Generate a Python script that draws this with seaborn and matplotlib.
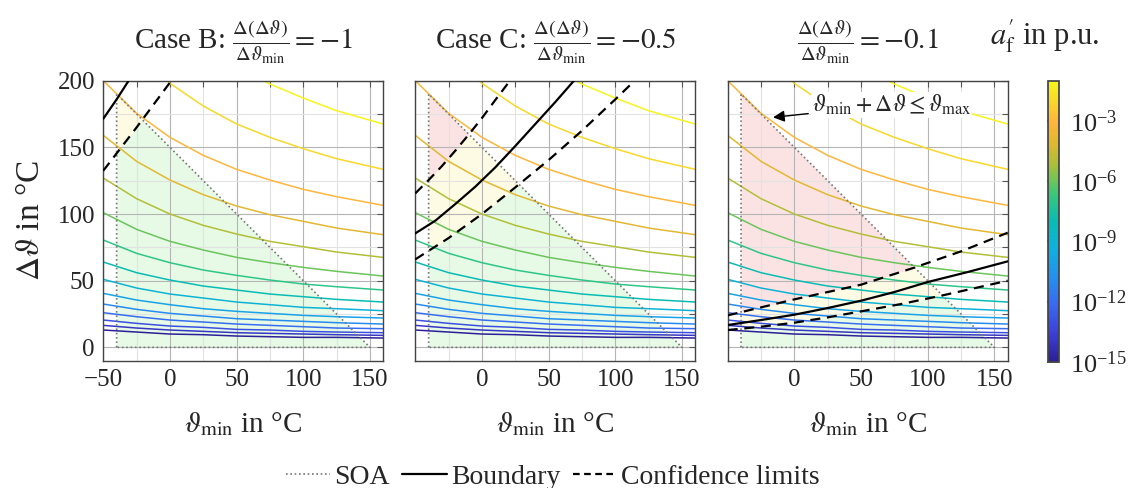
import numpy as np
import pandas as pd
import matplotlib
matplotlib.use("Agg")
import matplotlib.pyplot as plt
import seaborn as sns
from matplotlib.colors import LinearSegmentedColormap, LogNorm
from matplotlib.cm import ScalarMappable
from matplotlib.lines import Line2D
from matplotlib.ticker import MultipleLocator

# ---- data ----
tmin_grid = [-50, -25, 0, 25, 50, 75, 100, 125, 160]
af_levels = [1e-1, 1e-2, 1e-3, 1e-4, 1e-5, 1e-6, 1e-7, 1e-8,
             1e-9, 1e-10, 1e-11, 1e-12, 1e-13, 1e-14, 1e-15]
# delta-theta of each iso-line of a_f' at the tmin_grid positions
iso_dtheta = [
    [315, 276, 248, 227, 210, 197.5, 187, 177.5, 167.5],
    [251, 220, 198, 181, 167.5, 157.5, 149, 141.5, 133.5],
    [200, 175.5, 157.5, 144, 133.5, 125.5, 118.5, 113, 106.5],
    [159, 139.5, 125.5, 114.5, 106, 99.5, 94.5, 89.5, 84.5],
    [127, 111.5, 100, 91.5, 85, 79.5, 75.5, 71.5, 67.5],
    [101, 88.5, 79.5, 73, 67.5, 63.5, 60, 57, 53.5],
    [80.5, 70.5, 63.5, 58, 54, 50.5, 47.5, 45.5, 43],
    [64, 56, 50.5, 46, 43, 40, 38, 36, 34],
    [51, 44.5, 40, 37, 34, 32, 30, 29, 27.5],
    [40.5, 35.5, 32, 29, 27, 25.5, 24, 23, 22],
    [32.5, 28.5, 25.5, 23.5, 21.5, 20.5, 19.5, 18.5, 17.5],
    [26, 23, 20.5, 19, 17.5, 16.5, 15.5, 14.5, 14],
    [20.5, 18, 16, 15, 13.5, 13, 12, 11.5, 11],
    [16.5, 14.5, 13, 12, 11, 10.5, 10, 9.5, 9],
    [13, 11.5, 10, 9.5, 8.5, 8, 7.5, 7.5, 7],
]

# safe operating area
soa_tmin = -40
soa_tmax = 150

case_titles = [
    r"Case B: $\frac{\Delta(\Delta\vartheta)}{\Delta\vartheta_\mathrm{min}} = -1$",
    r"Case C: $\frac{\Delta(\Delta\vartheta)}{\Delta\vartheta_\mathrm{min}} = -0.5$",
    r"$\frac{\Delta(\Delta\vartheta)}{\Delta\vartheta_\mathrm{min}} = -0.1$",
]

# boundary and confidence limits per case (tmin, dtheta)
boundary_x = [[-50, -40, -31],
              [-50, -35, -20, -5, 10, 25, 40, 55, 69],
              [-50, -25, 0, 25, 50, 75, 100, 130, 160]]
boundary_y = [[171.5, 186, 200],
              [85.5, 95, 107.5, 120.5, 135, 151, 167.5, 184, 200],
              [16.75, 20.5, 24.5, 29.5, 35, 41.5, 49, 56.5, 64.5]]
conf_up_x = [None,
             [-50, -40, -30, -20, -10, 0, 10, 21],
             [-50, -25, 0, 25, 50, 89, 125, 160]]
conf_up_y = [None,
             [115.5, 125.5, 136, 147.5, 159.5, 172, 185.5, 200],
             [24, 30, 36, 41.5, 47, 59.5, 72, 86]]
conf_lo_x = [[-50, -25, 1],
             [-50, -25, 0, 25, 50, 75, 100, 114.5],
             [-50, -25, 0, 25, 50, 80, 109, 160]]
conf_lo_y = [[132.5, 165, 200],
             [66, 82, 100, 120, 140.5, 162.5, 186, 200],
             [13, 15.5, 18.5, 22.5, 27, 32.5, 38.5, 50]]

xticks = [[-50, 0, 50, 100, 150], [0, 50, 100, 150], [0, 50, 100, 150]]
cbar_ticks = [1e-15, 1e-12, 1e-9, 1e-6, 1e-3]

# parula-like colour map as seen on the colour bar
cmap_pos = [0.0, 0.1, 0.2, 0.3, 0.4, 0.5, 0.6, 0.7, 0.78, 0.857, 0.93, 1.0]
cmap_col = ["#2c1f98", "#3b3fd8", "#3a68f0", "#2390f0", "#10b0e0", "#08bcb4",
            "#3cc878", "#a8c038", "#e0b830", "#ffb53c", "#f8d828", "#f8f51a"]
parula = LinearSegmentedColormap.from_list("parula", list(zip(cmap_pos, cmap_col)))
norm = LogNorm(1e-15, 1e-1)

rows = []
for lev, vals in zip(af_levels, iso_dtheta):
    for t, d in zip(tmin_grid, vals):
        rows.append({"tmin": t, "dtheta": d, "level": lev})
iso_df = pd.DataFrame(rows)

sns.set_theme(style="white")
plt.rcParams["font.family"] = ["Liberation Serif", "DejaVu Serif"]
plt.rcParams["mathtext.fontset"] = "stix"
plt.rcParams["font.size"] = 18

fig = plt.figure(figsize=(11.35, 4.88), dpi=100)
W, H = 1135, 488
lefts = [103.3, 415.3, 727.7]
axes = [fig.add_axes([l / W, 1 - 360.7 / H, 280 / W, 280 / H]) for l in lefts]

green, yellow, red = "#e6fae6", "#fdfbe3", "#fbe3e3"
xs = np.linspace(soa_tmin, soa_tmax, 400)
soa_top = soa_tmax - xs
dash = (0, (4.5, 3))

for i, ax in enumerate(axes):
    lo = np.interp(xs, conf_lo_x[i], conf_lo_y[i])
    up = np.interp(xs, conf_up_x[i], conf_up_y[i]) if conf_up_x[i] else np.full_like(xs, np.inf)
    g_top = np.minimum(soa_top, lo)
    ax.fill_between(xs, 0, g_top, color=green, lw=0, zorder=0.2)
    y_top = np.minimum(soa_top, up)
    ax.fill_between(xs, g_top, y_top, where=y_top > g_top, color=yellow, lw=0, zorder=0.2)
    ax.fill_between(xs, y_top, soa_top, where=soa_top > y_top, color=red, lw=0, zorder=0.2)

    sns.lineplot(data=iso_df, x="tmin", y="dtheta", hue="level", hue_norm=norm,
                 palette=parula, legend=False, ax=ax, lw=1.1, zorder=2)

    ax.plot([soa_tmin, soa_tmin, soa_tmax, soa_tmin], [0, soa_tmax - soa_tmin, 0, 0],
            color="#777777", ls=(0, (1, 1.6)), lw=1.2, zorder=3)
    ax.plot(boundary_x[i], boundary_y[i], color="black", lw=1.6, zorder=4)
    ax.plot(conf_lo_x[i], conf_lo_y[i], color="black", lw=1.6, ls=dash, zorder=4)
    if conf_up_x[i]:
        ax.plot(conf_up_x[i], conf_up_y[i], color="black", lw=1.6, ls=dash, zorder=4)

    ax.set_xlim(-50, 160)
    ax.set_ylim(-10, 200)
    ax.set_xticks(xticks[i])
    ax.xaxis.set_minor_locator(MultipleLocator(25))
    ax.yaxis.set_major_locator(MultipleLocator(50))
    ax.yaxis.set_minor_locator(MultipleLocator(25))
    ax.grid(which="major", color="#b5b5b5", lw=0.8)
    ax.grid(which="minor", color="#e2e2e2", lw=0.8)
    ax.set_axisbelow(True)
    ax.tick_params(which="both", direction="in", length=4, width=0.8, color="#555555",
                   top=True, right=True, labelsize=18, pad=6)
    for s in ax.spines.values():
        s.set_color("#444444")
        s.set_linewidth(1.0)
    ax.set_xlabel(r"$\vartheta_\mathrm{min}$ in °C", fontsize=21, labelpad=14)
    ax.set_ylabel("")
    ax.set_title(case_titles[i], fontsize=21, pad=23)
    if i > 0:
        ax.set_yticklabels([])

axes[0].set_ylabel(r"$\Delta\vartheta$ in °C", fontsize=24, labelpad=8)

axes[2].annotate(r"$\vartheta_\mathrm{min} + \Delta\vartheta \leq \vartheta_\mathrm{max}$",
                 xy=(-16, 172.5), xytext=(13, 182), fontsize=17, va="center", ha="left",
                 bbox=dict(fc="white", ec="none", pad=0.5),
                 arrowprops=dict(arrowstyle="-|>", color="black", lw=1, shrinkA=2, shrinkB=0),
                 zorder=6)

cax = fig.add_axes([1047.7 / W, 1 - 361.7 / H, 11.6 / W, 280.7 / H])
cb = fig.colorbar(ScalarMappable(norm=norm, cmap=parula), cax=cax)
cb.set_ticks(cbar_ticks)
cb.ax.minorticks_off()
cb.ax.tick_params(direction="in", length=8.3, width=1.2, color="#808080", labelsize=19, pad=8)
cb.outline.set_edgecolor("#444444")
fig.text(1045 / W, 1 - 36 / H, r"$a_\mathrm{f}^{\prime}$ in p.u.", ha="center", va="center", fontsize=22)

handles = [
    Line2D([], [], color="#777777", ls=(0, (1, 1.6)), lw=1.2),
    Line2D([], [], color="black", lw=1.6),
    Line2D([], [], color="black", lw=1.6, ls=(0, (3, 2))),
]
fig.legend(handles, ["SOA", "Boundary", "Confidence limits"], loc="lower center",
           bbox_to_anchor=(0.487, -0.055), ncol=3, frameon=False, fontsize=20,
           handlelength=1.6, handletextpad=0.15, columnspacing=0.45)

fig.savefig("out.png", dpi=100)
